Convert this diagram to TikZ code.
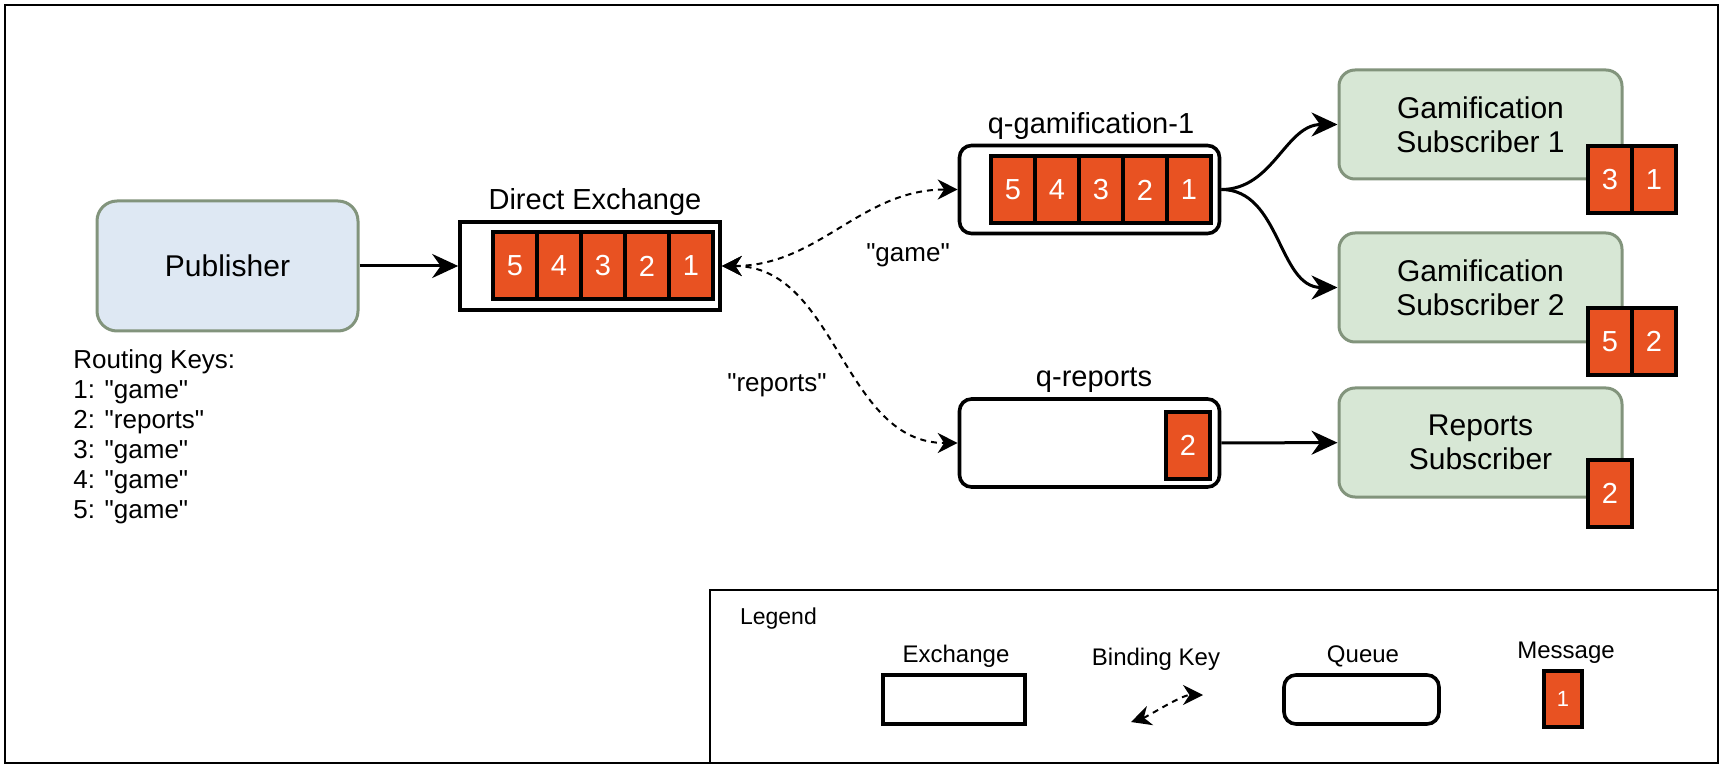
\documentclass[tikz,border=0pt]{standalone}
\usepackage{fontspec}
\setmainfont{Liberation Sans}[Ligatures=TeXOff]
\usetikzlibrary{arrows.meta}
\definecolor{msgfill}{RGB}{232,82,34}
\definecolor{pubfill}{RGB}{222,232,243}
\definecolor{subfill}{RGB}{215,231,213}
\definecolor{boxedge}{RGB}{130,148,124}
\newcommand\colorMessage{msgfill}
\newcommand\colorEdge{boxedge}
\newcommand\messageWidth{44}
\newcommand\drawMessages[4]{
	\foreach \m [count=\k from 0] in {#4}{
		\node[message] (#1\m) at (#2+\k*\messageWidth,#3) {\m};
	}
}
\tikzset{
	message/.style={draw=black, line width=2pt, fill=\colorMessage, text=white, minimum width=22pt, minimum height=33.5pt, inner sep=0pt, font=\fontsize{14.5}{17}\selectfont},
	client/.style={draw=\colorEdge, line width=1.5pt, rounded corners=8pt, minimum width=141.5pt, minimum height=54.5pt, align=center, fill=subfill, font=\fontsize{15}{17}\selectfont},
	exchangebox/.style={draw=black, line width=1.8pt, minimum width=130pt, minimum height=44pt, inner sep=0pt},
	queuebox/.style={exchangebox, rounded corners=6pt},
	title/.style={font=\fontsize{14.5}{17}\selectfont},
	small/.style={font=\fontsize{12}{14}\selectfont},
	flow/.style={line width=1.5pt, -{Stealth[length=13pt,width=12pt]}},
	bind/.style={line width=1pt, dash pattern=on 3pt off 2.5pt, {Stealth[length=10pt,width=10pt]}-{Stealth[length=10pt,width=10pt]}},
	frame/.style={draw=black, line width=1pt}
}
\begin{document}
\begin{tikzpicture}[x=0.5pt,y=-0.5pt]
	\useasboundingbox (0,0) rectangle (1725,770);
	\draw[frame] (5,5) rectangle (1718,763);
	\draw[frame] (710,590) rectangle (1718,763);

	\node[client, fill=pubfill, rounded corners=10pt, minimum width=130.5pt, minimum height=65pt] (pub) at (227.5,266) {Publisher};
	\node[anchor=north west, align=left, inner sep=0pt, font=\fontsize{13}{15}\selectfont] (keys) at (73,349) {Routing Keys:\\1: "game"\\2: "reports"\\3: "game"\\4: "game"\\5: "game"};

	\node[exchangebox] (exch) at (590,266) {};
	\node[title] (exchlabel) at (595,202) {Direct Exchange};
	\drawMessages{ex}{515}{266}{5,4,3,2,1}

	\node[queuebox] (qgam) at (1089.5,189.5) {};
	\node[title] (qgamlabel) at (1091,126) {q-gamification-1};
	\drawMessages{qg}{1013}{190}{5,4,3,2,1}

	\node[queuebox] (qrep) at (1089.5,443) {};
	\node[title] (qreplabel) at (1094,380) {q-reports};
	\drawMessages{qr}{1188}{445}{2}

	\node[client] (sub1) at (1480.5,124.5) {Gamification\\Subscriber 1};
	\node[client] (sub2) at (1480.5,287.5) {Gamification\\Subscriber 2};
	\node[client] (subrep) at (1480.5,442.5) {Reports\\Subscriber};
	\drawMessages{sa}{1610}{179.5}{3,1}
	\drawMessages{sb}{1610}{341.5}{5,2}
	\drawMessages{sr}{1610}{493}{2}

	\draw[flow] (pub) -- (exch);
	\draw[bind] (exch.east) to[out=0,in=180] (qgam.west);
	\draw[bind] (exch.east) to[out=0,in=180] (qrep.west);
	\node[font=\fontsize{13}{15}\selectfont] (lblgame) at (908,255) {"game"};
	\node[font=\fontsize{13}{15}\selectfont] (lblreports) at (777,385) {"reports"};
	\draw[flow] (qgam.east) to[out=0,in=180] (sub1.west);
	\draw[flow] (qgam.east) to[out=0,in=180] (sub2.west);
	\draw[flow] (qrep) -- (subrep);

	\node[anchor=west, font=\fontsize{11.5}{14}\selectfont] (legend) at (733,619) {Legend};
	\node[exchangebox, minimum width=71pt, minimum height=24.5pt] (legexch) at (954,699.5) {};
	\node[small] (legexchlabel) at (956,656) {Exchange};
	\coordinate (bk1) at (1131,722);
	\coordinate (bk2) at (1203,695);
	\draw[bind] (bk1) .. controls +(18,-6) and +(-22,0) .. (bk2);
	\node[small] (legbind) at (1156,659) {Binding Key};
	\node[queuebox, minimum width=77.5pt, minimum height=24.5pt] (legqueue) at (1361.5,699.5) {};
	\node[small] (legqueuelabel) at (1363,656) {Queue};
	\node[message, minimum width=19pt, minimum height=28pt, font=\fontsize{11}{13}\selectfont] (legmsg) at (1563,699) {1};
	\node[small] (legmsglabel) at (1566,653) {Message};
\end{tikzpicture}
\end{document}
